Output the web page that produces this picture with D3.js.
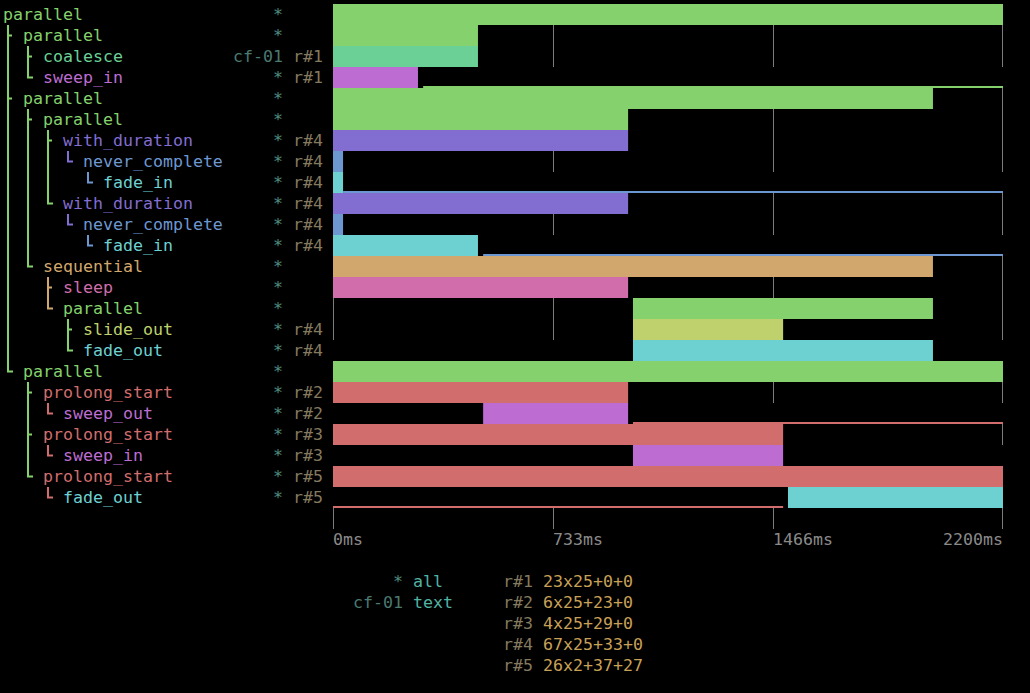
<!DOCTYPE html>
<html>
<head>
<meta charset="utf-8">
<script src="https://cdn.jsdelivr.net/npm/d3@7"></script>
<style>
  html, body { margin: 0; padding: 0; background: #000; }
  svg { display: block; }
  text { font-family: "DejaVu Sans Mono", monospace; font-size: 16.6px; }
</style>
</head>
<body>
<svg id="chart" width="1030" height="693"></svg>
<script>
// ---- data ----
const names = ["parallel","parallel","coalesce","sweep_in","parallel","parallel","with_duration","never_complete","fade_in","with_duration","never_complete","fade_in","sequential","sleep","parallel","slide_out","fade_out","parallel","prolong_start","sweep_out","prolong_start","sweep_in","prolong_start","fade_out"];
const depths = [0,1,2,2,1,2,3,4,5,3,4,5,2,3,3,4,4,1,2,3,2,3,2,3];
const selectors = ["*","*","cf-01","*","*","*","*","*","*","*","*","*","*","*","*","*","*","*","*","*","*","*","*","*"];
const regions = ["","","r#1","r#1","","","r#4","r#4","r#4","r#4","r#4","r#4","","","","r#4","r#4","","r#2","r#2","r#3","r#3","r#5","r#5"];
const barStart = [0,0,0,0,0,0,0,0,0,0,0,0,0,0,985,985,985,0,0,493,0,985,0,1494];
const barEnd   = [2200,476,476,279,1970,969,969,33,33,969,33,476,1970,969,1970,1478,1970,2200,969,969,1478,1478,2200,2200];
// thin "tail" marks at the bottom of some rows (ms)
const thinRows  = [3,8,11,19,23];
const thinStart = [296,33,493,985,0];
const thinEnd   = [2200,2200,2200,2200,1478];
const tickValues = [0,733,1466,2200];
const tickLabels = ["0ms","733ms","1466ms","2200ms"];
const legendSel  = ["*","cf-01"];
const legendDesc = ["all","text"];
const regionNames = ["r#1","r#2","r#3","r#4","r#5"];
const regionGeom  = ["23x25+0+0","6x25+23+0","4x25+29+0","67x25+33+0","26x2+37+27"];

const nameColors = {
  parallel: "#85d16d", coalesce: "#6ad096", sweep_in: "#bd6dd1", sweep_out: "#bd6dd1",
  with_duration: "#826dd1", never_complete: "#6d97d1", fade_in: "#6dd1d1", fade_out: "#6dd1d1",
  sequential: "#d1a76d", sleep: "#d16dab", slide_out: "#bfd16d", prolong_start: "#d16d6d"
};
const C_SEL = "#4e8a7e", C_CF = "#4b7a71", C_REG = "#857a5f", C_AXIS = "#8a8a8a",
      C_GRID = "#7c7c7c", C_DESC = "#52b2a2", C_GEOM = "#c9a057";

// ---- layout scales (terminal grid) ----
const colX = d3.scaleLinear().domain([0, 103]).range([3, 1033]);
const rowY = d3.scaleLinear().domain([0, 33]).range([4, 697]);
const RH = 21, BASE = 16;
const x = d3.scaleLinear().domain([0, 2200]).range([colX(33), colX(100)]);
const cols = d3.scaleLinear().domain([0, 2200]).range([0, 67]);
const tickX = v => colX(33 + Math.floor(cols(v)));

const svg = d3.select("#chart");
svg.append("rect").attr("width", 1030).attr("height", 693).attr("fill", "#000");

const n = names.length;
// tree structure
const parent = [], isLast = [], isLeaf = [];
for (let i = 0; i < n; i++) {
  let p = -1;
  for (let j = i - 1; j >= 0; j--) if (depths[j] === depths[i] - 1) { p = j; break; }
  parent.push(p);
  let last = true;
  for (let j = i + 1; j < n; j++) {
    if (depths[j] < depths[i]) break;
    if (depths[j] === depths[i]) { last = false; break; }
  }
  isLast.push(last);
  isLeaf.push(i === n - 1 || depths[i + 1] <= depths[i]);
}
const color = i => nameColors[names[i]];

// ---- tree labels ----
const gTree = svg.append("g");
for (let i = 0; i < n; i++) {
  const top = rowY(i), mid = top + 10.5, bot = top + RH;
  const d = depths[i];
  if (d > 0) {
    const cx = colX(2 * d - 2) + 5;
    const pc = color(parent[i]);
    const path = isLast[i]
      ? `M${cx},${top}V${mid}H${cx + 5}`
      : `M${cx},${top}V${bot}M${cx},${mid}H${cx + 4}`;
    gTree.append("path").attr("d", path).attr("fill", "none")
      .attr("stroke", pc).attr("stroke-width", 2);
    // continuation lines for ancestors
    let a = parent[i];
    while (a >= 0 && depths[a] >= 1) {
      if (!isLast[a]) {
        const ax = colX(2 * depths[a] - 2) + 5;
        gTree.append("line").attr("x1", ax).attr("x2", ax).attr("y1", top).attr("y2", bot)
          .attr("stroke", color(parent[a])).attr("stroke-width", 2);
      }
      a = parent[a];
    }
  }
  gTree.append("text").attr("x", colX(2 * d)).attr("y", top + BASE)
    .attr("fill", color(i)).text(names[i]);
  gTree.append("text").attr("x", colX(28)).attr("y", top + BASE).attr("text-anchor", "end")
    .attr("fill", selectors[i] === "*" ? C_SEL : C_CF).text(selectors[i]);
  if (regions[i]) {
    gTree.append("text").attr("x", colX(29)).attr("y", top + BASE)
      .attr("fill", C_REG).text(regions[i]);
  }
}

// ---- grid lines (empty cells at tick positions) ----
const gGrid = svg.append("g");
const xRight = x(2200);
for (let i = 0; i < n; i++) {
  if (isLeaf[i] && isLast[i] && depths[i] > 0) continue;
  tickValues.forEach(v => {
    const tx = tickX(v);
    if (tx >= x(barStart[i]) && tx <= x(barEnd[i])) return;
    const lx = Math.min(tx + 0.5, xRight - 0.5);
    gGrid.append("line").attr("x1", lx).attr("x2", lx)
      .attr("y1", rowY(i)).attr("y2", rowY(i) + RH)
      .attr("stroke", C_GRID).attr("stroke-width", 1);
  });
}

// ---- bars ----
svg.append("g").selectAll("rect").data(d3.range(n)).join("rect")
  .attr("x", i => x(barStart[i]))
  .attr("width", i => x(barEnd[i]) - x(barStart[i]))
  .attr("y", i => rowY(i))
  .attr("height", RH)
  .attr("fill", i => color(i));

// thin tail marks
svg.append("g").selectAll("rect").data(d3.range(thinRows.length)).join("rect")
  .attr("x", k => x(thinStart[k]))
  .attr("width", k => x(thinEnd[k]) - x(thinStart[k]))
  .attr("y", k => rowY(thinRows[k]) + RH - 2)
  .attr("height", 2)
  .attr("fill", k => color(parent[thinRows[k]]));

// ---- axis ----
const gAxis = svg.append("g");
tickValues.forEach((v, k) => {
  const tx = tickX(v);
  const lx = Math.min(tx + 0.5, xRight - 0.5);
  gAxis.append("line").attr("x1", lx).attr("x2", lx)
    .attr("y1", rowY(24)).attr("y2", rowY(24) + RH)
    .attr("stroke", C_GRID).attr("stroke-width", 1);
  const last = k === tickValues.length - 1;
  gAxis.append("text").attr("x", last ? xRight : tx).attr("y", rowY(25) + BASE)
    .attr("text-anchor", last ? "end" : "start").attr("fill", C_AXIS).text(tickLabels[k]);
});

// ---- legend ----
const gLeg = svg.append("g");
legendSel.forEach((s, k) => {
  gLeg.append("text").attr("x", colX(40)).attr("y", rowY(27 + k) + BASE).attr("text-anchor", "end")
    .attr("fill", s === "*" ? C_SEL : C_CF).text(s);
  gLeg.append("text").attr("x", colX(41)).attr("y", rowY(27 + k) + BASE)
    .attr("fill", C_DESC).text(legendDesc[k]);
});
regionNames.forEach((r, k) => {
  gLeg.append("text").attr("x", colX(50)).attr("y", rowY(27 + k) + BASE)
    .attr("fill", C_REG).text(r);
  gLeg.append("text").attr("x", colX(54)).attr("y", rowY(27 + k) + BASE)
    .attr("fill", C_GEOM).text(regionGeom[k]);
});
</script>
</body>
</html>
